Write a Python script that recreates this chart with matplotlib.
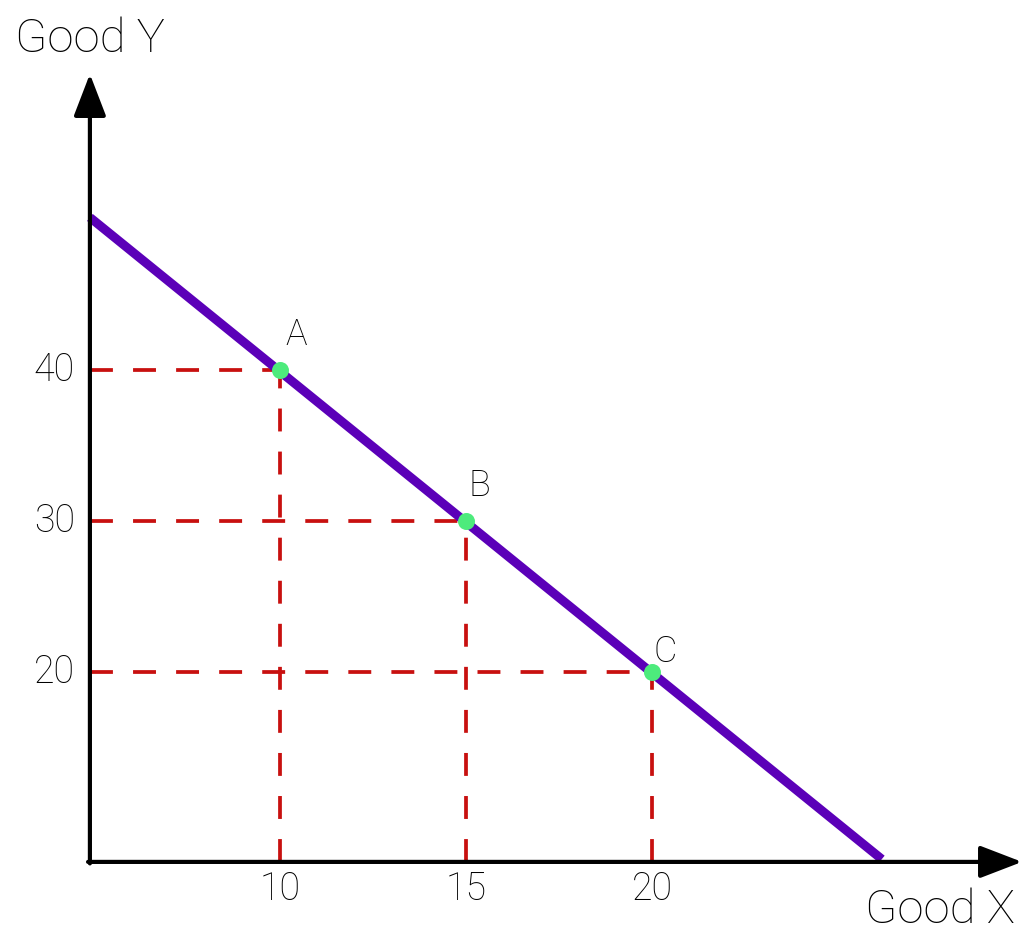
import matplotlib
matplotlib.use("Agg")
import matplotlib.pyplot as plt

plt.rcParams['font.family'] = ['Roboto', 'DejaVu Sans']
plt.rcParams['font.weight'] = 'light'
plt.rcParams['lines.scale_dashes'] = False

# Data
point_labels = ["A", "B", "C"]
point_x = [10, 15, 20]
point_y = [40, 30, 20]
x_ticks = [10, 15, 20]
y_ticks = [20, 30, 40]
line_x = [4.89, 26.18]
line_y = [50.1, 7.6]
axis_origin = (4.89, 7.42)
x_axis_end = 29.95
y_axis_end = 59.6

fig = plt.figure(figsize=(10.25, 9.3), dpi=100)
ax = fig.add_axes([0, 0, 1, 1])
ax.set_xlim(2.473, 30.03)
ax.set_ylim(2.91, 64.5)
ax.axis('off')

x0, y0 = axis_origin
red = '#C8100F'
dash = (0, (16.5, 14.5))
for px, py in zip(point_x, point_y):
    ax.plot([x0, px], [py, py], color=red, lw=2.7, linestyle=dash, zorder=2,
            dash_capstyle='butt')
    ax.plot([px, px], [y0, py], color=red, lw=2.7, linestyle=dash, zorder=2,
            dash_capstyle='butt')

# Budget line
ax.plot(line_x, line_y, color='#5B00B8', lw=6.5, solid_capstyle='butt', zorder=3)

# Axes with arrows
ax.annotate('', xy=(x_axis_end, y0), xytext=(x0 - 0.05, y0),
            arrowprops=dict(arrowstyle='-|>,head_length=2.6,head_width=1.0',
                            mutation_scale=10, lw=3, color='black',
                            shrinkA=0, shrinkB=0), zorder=4)
ax.annotate('', xy=(x0, y_axis_end), xytext=(x0, y0 - 0.1),
            arrowprops=dict(arrowstyle='-|>,head_length=2.6,head_width=1.0',
                            mutation_scale=10, lw=3, color='black',
                            shrinkA=0, shrinkB=0), zorder=4)

# Points
ax.scatter(point_x, point_y, s=150, color='#4DEB7C', zorder=5, linewidths=0)
label_offsets = [(0.45, 2.3), (0.35, 2.3), (0.35, 1.3)]
for lab, px, py, (dx, dy) in zip(point_labels, point_x, point_y, label_offsets):
    ax.text(px + dx, py + dy, lab, fontsize=26, ha='center', va='center', zorder=6)

# Tick labels
for t in x_ticks:
    ax.text(t, y0 - 0.6, str(t), fontsize=27, ha='center', va='top')
for t in y_ticks:
    ax.text(x0 - 0.4, t, str(t), fontsize=27, ha='right', va='center')

# Axis titles
fig.text(15 / 1025, 1 - 52 / 930, 'Good Y', fontsize=34, ha='left', va='baseline')
fig.text(1015 / 1025, 1 - 923 / 930, 'Good X', fontsize=34, ha='right', va='baseline')

fig.savefig('out.png', dpi=100, facecolor='white')
